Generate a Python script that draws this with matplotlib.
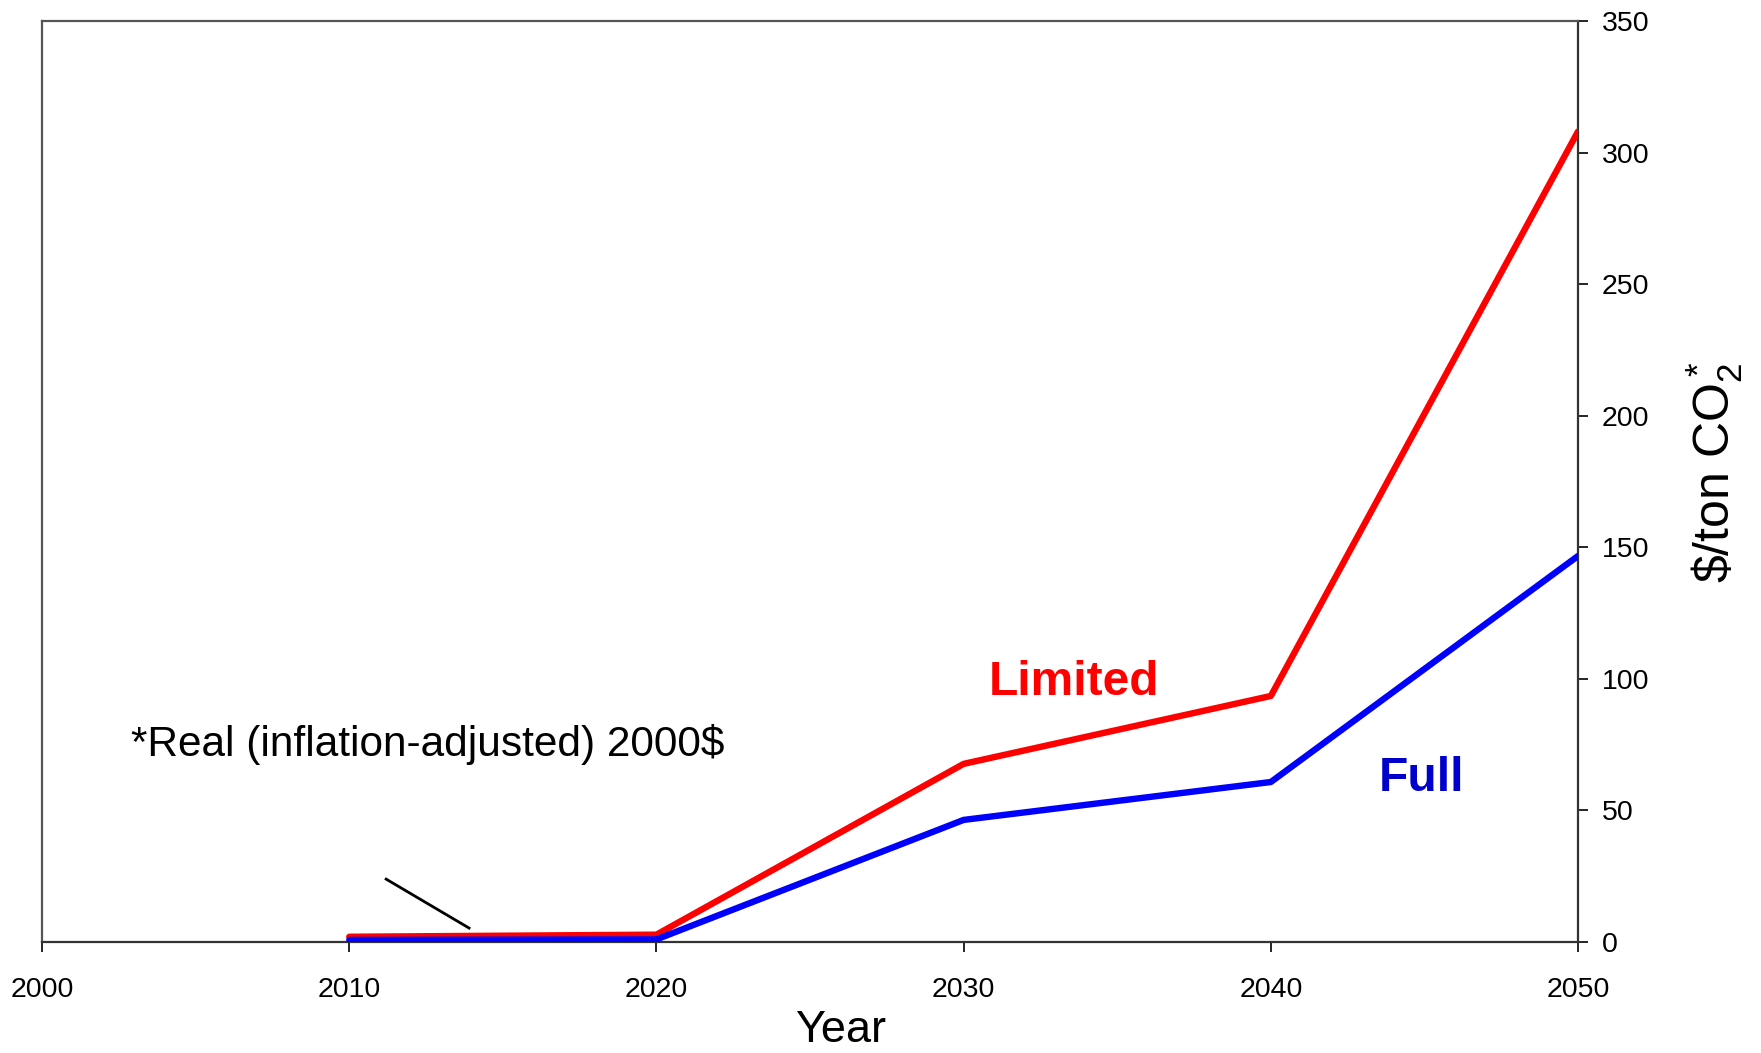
import matplotlib.pyplot as plt

plt.rcParams['font.family'] = ['Liberation Sans', 'DejaVu Sans']
plt.rcParams['mathtext.fontset'] = 'custom'
plt.rcParams['mathtext.rm'] = 'Liberation Sans'
plt.rcParams['mathtext.it'] = 'Liberation Sans'

# Carbon price paths ($/ton CO2, 2000$)
years = [2010, 2020, 2030, 2040, 2050]
limited = [2.0, 2.8, 67.7, 93.5, 308.0]
full = [0.8, 1.0, 46.4, 60.8, 146.7]

W, H = 1761, 1053
fig = plt.figure(figsize=(W / 100, H / 100), dpi=100)
ax = fig.add_axes([0.0239, 0.1054, 0.8722, 0.8747])

ax.plot(years, limited, color='#ff0000', lw=4.6, solid_capstyle='round', zorder=3)
ax.plot(years, full, color='#0000ff', lw=4.6, solid_capstyle='round', zorder=3)

# pointer line near the note
ax.plot([2011.2, 2013.9], [23.9, 5.3], color='black', lw=2)

ax.text(2002.9, 75.0, '*Real (inflation-adjusted) 2000$', fontsize=30.5, va='center', ha='left')
ax.text(2033.6, 98.5, 'Limited', fontsize=34.5, fontweight='bold', color='#ff0000', ha='center', va='center')
ax.text(2044.9, 62.2, 'Full', fontsize=34.5, fontweight='bold', color='#0000cc', ha='center', va='center')

ax.set_xlim(2000, 2050)
ax.set_ylim(0, 350)
ax.set_xticks(range(2000, 2051, 10))
ax.set_yticks(range(0, 351, 50))
ax.yaxis.tick_right()
ax.tick_params(axis='both', direction='out', length=7, width=1.2, labelsize=20.5)
ax.tick_params(axis='x', pad=18)
ax.tick_params(axis='y', pad=10)

fig.text(841 / W, 1 - 1031 / H, 'Year', fontsize=32.5, ha='center', va='center')
fig.text(1715 / W, 1 - 472 / H, r'\$/ton CO$_2^*$', fontsize=36, rotation=90,
         ha='center', va='center')

for side in ['left', 'top']:
    ax.spines[side].set_color('#555555')
    ax.spines[side].set_linewidth(1.6)
for side in ['right', 'bottom']:
    ax.spines[side].set_color('#333333')
    ax.spines[side].set_linewidth(1.6)

fig.savefig('out.png', dpi=100)
